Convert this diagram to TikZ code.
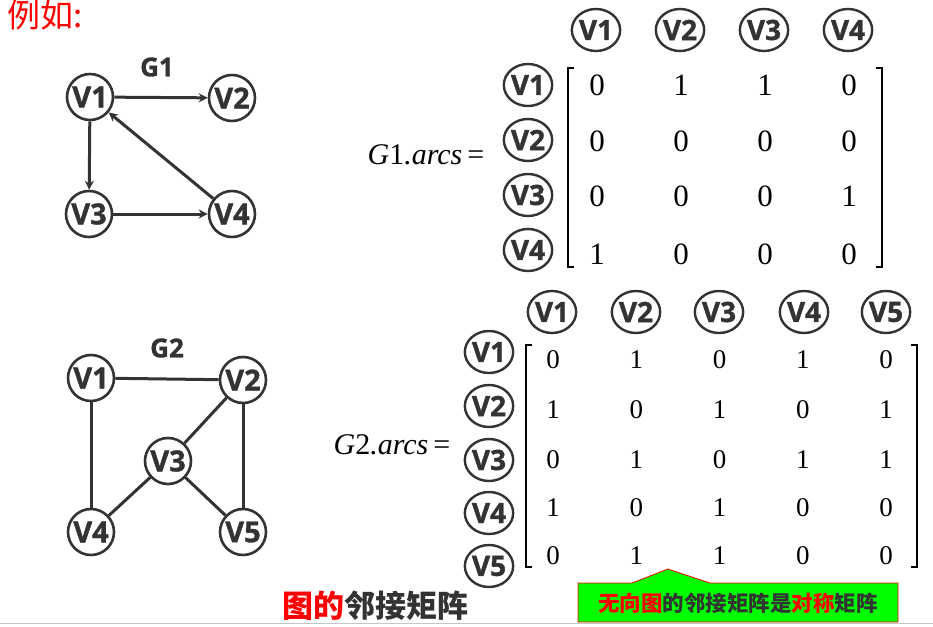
\documentclass[tikz,border=0pt]{standalone}
\usepackage{fontspec}
\setmainfont{Liberation Serif}
\setsansfont{Open Sans}[BoldFeatures={FakeBold=1.2}]
\newfontfamily\cjk{Noto Sans CJK SC}
\usetikzlibrary{shapes.geometric,arrows.meta}
\definecolor{dk}{HTML}{333333}
\definecolor{grn}{HTML}{00FF00}
\begin{document}
\begin{tikzpicture}[x=1pt,y=-1pt,
 vnode/.style={circle,draw=dk,line width=2.6pt,minimum size=46pt,inner sep=0pt,text=dk,font=\sffamily\bfseries\fontsize{29}{29}\selectfont},
 hnode/.style={ellipse,draw=dk,line width=2.4pt,minimum width=48pt,minimum height=42pt,inner sep=0pt,text=dk,font=\sffamily\bfseries\fontsize{28}{28}\selectfont},
 ttl/.style={text=dk,font=\sffamily\bfseries\fontsize{26}{26}\selectfont},
 edge/.style={draw=dk,line width=3pt},
 arc/.style={edge,-{Stealth[length=9pt,width=9pt]}},
 entA/.style={font=\fontsize{31}{31}\selectfont},
 entB/.style={font=\fontsize{27}{27}\selectfont},
 eqn/.style={font=\fontsize{30}{30}\selectfont},
 brk/.style={draw=black,line width=1.5pt},
]
\useasboundingbox (0,0) rectangle (933,626);

% heading
\node[anchor=west,text=red,font=\cjk\fontsize{33}{33}\selectfont] (lihu) at (4,15) {例如:};

% ---------- G1 ----------
\node[ttl] (g1t) at (157,67) {G1};
\node[vnode] (g1v1) at (90,97) {V1};
\node[vnode] (g1v2) at (232,98) {V2};
\node[vnode] (g1v3) at (89,214) {V3};
\node[vnode] (g1v4) at (232,214) {V4};
\draw[arc] (g1v1) -- (g1v2);
\draw[arc] (g1v1) -- (g1v3);
\draw[arc] (g1v3) -- (g1v4);
\draw[arc] (g1v4) -- (g1v1);

% ---------- G2 ----------
\node[ttl] (g2t) at (167,348) {G2};
\node[vnode] (g2v1) at (91,378) {V1};
\node[vnode] (g2v2) at (243,380) {V2};
\node[vnode] (g2v3) at (168,461) {V3};
\node[vnode] (g2v4) at (91,532) {V4};
\node[vnode] (g2v5) at (243,532) {V5};
\draw[edge] (g2v1) -- (g2v2);
\draw[edge] (g2v1) -- (g2v4);
\draw[edge] (g2v2) -- (g2v3);
\draw[edge] (g2v2) -- (g2v5);
\draw[edge] (g2v3) -- (g2v4);
\draw[edge] (g2v3) -- (g2v5);

% ---------- Matrix 1 ----------
\node[eqn] (eq1) at (426,155) {\textit{G}1\textit{.arcs}\,=};
\foreach \c/\x in {1/596,2/680,3/764,4/848}
  \node[hnode] (m1h\c) at (\x,30) {V\c};
\foreach \r/\y in {1/85,2/140,3/195,4/250}
  \node[hnode] (m1r\r) at (528,\y) {V\r};
\foreach \r/\y/\vals in {1/85/{0,1,1,0},2/141/{0,0,0,0},3/196/{0,0,0,1},4/254/{1,0,0,0}}
  \foreach \v [count=\c] in \vals
    \node[entA] (m1e\r\c) at ({597+(\c-1)*84},\y) {\v};
\draw[brk] (574,68) -- (568,68) -- (568,267) -- (574,267);
\draw[brk] (876,68) -- (882,68) -- (882,267) -- (876,267);

% ---------- Matrix 2 ----------
\node[eqn] (eq2) at (392,445) {\textit{G}2\textit{.arcs}\,=};
\foreach \c/\x in {1/552,2/636,3/719,4/804,5/886}
  \node[hnode] (m2h\c) at (\x,312) {V\c};
\foreach \r/\y in {1/352,2/406,3/460,4/513,5/566}
  \node[hnode] (m2r\r) at (489,\y) {V\r};
\foreach \r/\y/\vals in {1/360/{0,1,0,1,0},2/410/{1,0,1,0,1},3/460/{0,1,0,1,1},4/508/{1,0,1,0,0},5/556/{0,1,1,0,0}}
  \foreach \v [count=\c] in \vals
    \node[entB] (m2e\r\c) at ({553+(\c-1)*83.25},\y) {\v};
\draw[brk] (532,345) -- (526,345) -- (526,567) -- (532,567);
\draw[brk] (911,345) -- (917,345) -- (917,567) -- (911,567);

% ---------- bottom ----------
\draw[gray!45,line width=1.5pt] (0,623.5) -- (933,623.5);
\node[font=\cjk\bfseries\fontsize{31}{31}\selectfont] (title) at (375,606)
  {\textcolor{red}{图的}\textcolor{dk}{邻接矩阵}};
\draw[fill=grn,draw=red,line width=0.8pt] (578,583) -- (632,583) -- (668,569) -- (710,583) -- (898,583) -- (898,622) -- (578,622) -- cycle;
\node[font=\cjk\bfseries\fontsize{21.5}{21.5}\selectfont] (note) at (738,603)
  {\textcolor{red}{无向图}\textcolor{dk}{的邻接矩阵是}\textcolor{red}{对称}\textcolor{dk}{矩阵}};
\end{tikzpicture}
\end{document}
